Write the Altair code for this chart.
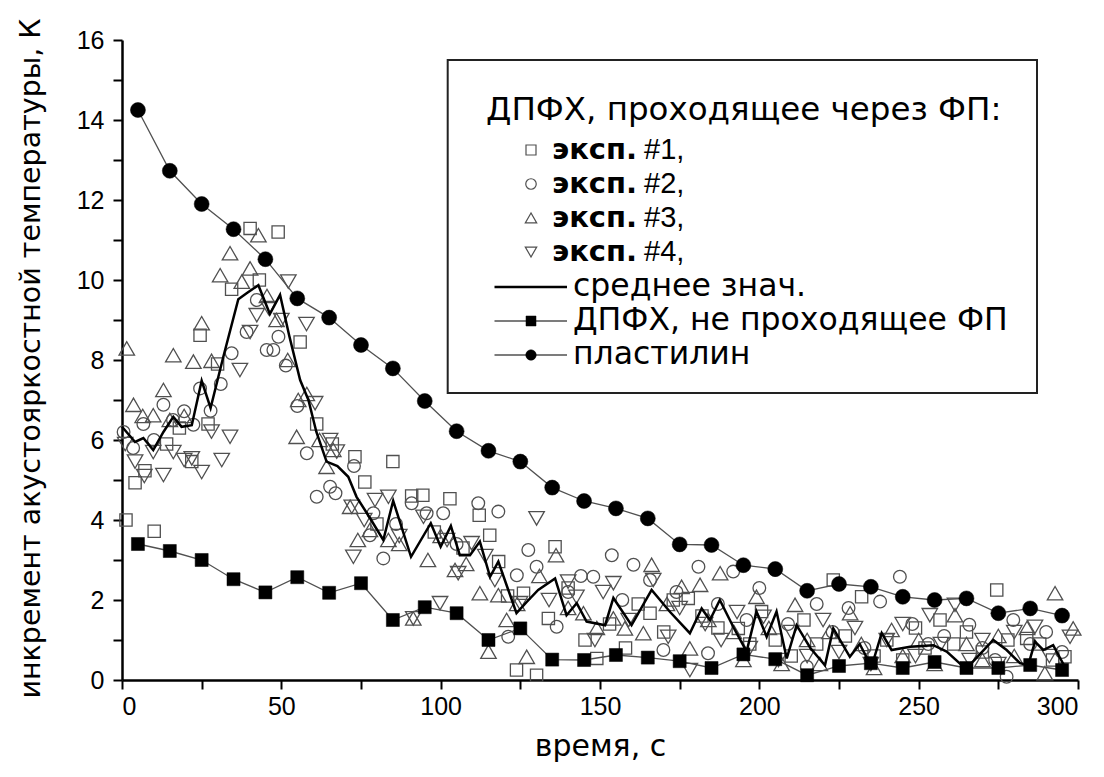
import altair as alt
import pandas as pd

# ---------------- data ----------------
# пластилин (filled circles)
plast_t = [5, 15, 25, 35, 45, 55, 65, 75, 85, 95, 105, 115, 125, 135, 145, 155, 165, 175, 185, 195,
           205, 215, 225, 235, 245, 255, 265, 275, 285, 295]
plast_v = [14.25, 12.73, 11.9, 11.27, 10.52, 9.54, 9.06, 8.375, 7.79, 6.975, 6.22, 5.73, 5.46, 4.81,
           4.475, 4.29, 4.04, 3.39, 3.375, 2.87, 2.775, 2.23, 2.4, 2.33, 2.08, 2.0, 2.04, 1.67, 1.79, 1.61]

# ДПФХ, не проходящее ФП (filled squares)
nofp_t = plast_t
nofp_v = [3.4, 3.225, 3.0, 2.52, 2.19, 2.57, 2.18, 2.42, 1.5, 1.82, 1.67, 1.0, 1.29, 0.51, 0.5,
          0.625, 0.56, 0.47, 0.3, 0.64, 0.52, 0.12, 0.35, 0.42, 0.3, 0.45, 0.3, 0.3, 0.375, 0.25]

# среднее значение (mean line)
mean_t = [0, 2.5, 4.1, 6.7, 9.8, 13, 16.1, 18.7, 21.9, 25, 27.8, 31.8, 36.5, 39.1, 42.8, 46.4, 49.6,
          52.5, 55.9, 58.5, 61, 64.2, 67.6, 71, 73.6, 77.8, 82, 85.1, 90.7, 96.9, 100, 103.2, 106,
          109.2, 112.3, 115.5, 118.1, 121, 123.8, 127, 130.6, 135.9, 139.5, 142.7, 145.8, 151.6,
          154.2, 159.9, 166.2, 172, 178.2, 181.9, 184.5, 187.6, 192, 196, 199.1, 202.3, 205.4,
          208.6, 211.7, 216, 220.6, 223.2, 228.4, 231.5, 235.2, 238.4, 241.5, 247.3, 254.6, 258.8,
          263.5, 266.6, 273.4, 277.6, 281.8, 284.4, 286.5, 289.1, 292.2, 296.4]
mean_v = [6.33, 6.1, 5.95, 6.05, 5.75, 6.2, 6.58, 6.33, 6.37, 7.48, 6.8, 8.08, 9.52, 9.67, 9.87, 9.15,
          9.63, 8.6, 7.5, 7.0, 6.2, 5.46, 5.35, 5.08, 4.58, 4.05, 3.5, 4.48, 3.08, 3.92, 3.33, 3.85,
          3.12, 3.12, 3.46, 2.58, 2.96, 2.3, 1.67, 1.95, 2.25, 2.54, 1.62, 1.92, 1.46, 1.37, 2.05,
          1.37, 2.25, 1.7, 1.17, 1.79, 1.5, 2.0, 1.3, 0.71, 1.71, 1.08, 1.71, 0.54, 1.37, 0.8, 0.37,
          1.29, 0.58, 0.9, 0.33, 1.17, 0.75, 0.83, 0.87, 0.71, 0.37, 0.42, 1.0, 0.75, 0.42, 0.37,
          0.96, 0.75, 0.87, 0.25]

# эксп. #1 (open squares)
e1_t = [1.25, 4.1, 7.2, 10.1, 14, 18, 21.9, 24.5, 27, 30, 34.4, 40.2, 43.1, 49, 55.9, 61.1, 66, 73.1,
        76.2, 80, 85, 90.9, 94.4, 98, 102.9, 107, 112.1, 115.4, 118.2, 121, 123.8, 126, 130.1, 133.8,
        135.9, 140, 145.3, 149, 153, 158, 162, 165.7, 170, 173, 177.7, 182, 187, 193.4, 197, 200.7,
        205, 210, 214, 218, 223.2, 227, 232.1, 236, 240, 245, 249, 252, 256.7, 261, 265, 270, 274.5,
        278, 283.9, 288, 292, 295.9]
e1_v = [4.0, 4.93, 5.23, 3.72, 5.9, 6.3, 5.46, 8.62, 6.4, 7.9, 9.77, 11.29, 10.0, 11.2, 8.45, 6.4, 5.9,
        5.58, 4.95, 3.9, 5.46, 4.6, 4.62, 3.7, 4.53, 3.3, 4.12, 3.62, 2.96, 2.1, 0.25, 2.17, 0.12, 1.54,
        3.33, 2.3, 1.0, 0.54, 1.4, 0.8, 1.9, 1.67, 1.2, 2.0, 2.04, 1.6, 1.3, 1.29, 0.9, 1.71, 1.0, 0.6,
        1.5, 0.9, 2.5, 1.1, 2.08, 0.6, 1.0, 0.5, 1.3, 0.8, 1.5, 0.9, 1.2, 0.7, 2.25, 1.0, 1.04, 0.9,
        0.5, 0.58]

# эксп. #2 (open circles)
e2_t = [0.5, 3.5, 6.7, 10, 13, 16, 19.5, 22.4, 24.5, 27.8, 31, 34.4, 39.1, 42.3, 45.4, 47.5, 49.1,
        51.4, 55, 58, 61.1, 65.3, 67, 72.8, 77.8, 78.9, 82, 86, 90.9, 95.6, 100.8, 105, 111.8, 118.1,
        121.2, 123.9, 127.5, 130.1, 136.4, 140, 144, 147.9, 153.7, 157, 160.5, 165.7, 169.9, 174,
        180.9, 183.9, 187, 191.8, 196, 200, 205, 209, 214.9, 218, 223, 228, 233, 237.9, 244.1, 248,
        253, 258, 265.9, 270, 274, 277.6, 279.7, 285, 290, 295]
e2_v = [6.2, 5.8, 6.4, 6.0, 6.88, 6.5, 6.72, 6.38, 7.29, 6.73, 7.4, 8.17, 8.7, 9.5, 8.25, 8.25, 8.58,
        7.86, 6.85, 5.67, 4.58, 4.83, 4.67, 5.35, 3.62, 4.17, 3.04, 3.9, 4.42, 4.17, 4.17, 3.4, 4.42,
        4.21, 1.08, 2.62, 3.25, 2.83, 1.33, 2.2, 2.6, 2.58, 3.12, 2.0, 2.88, 2.5, 0.75, 2.2, 2.83, 0.67,
        1.9, 2.71, 1.5, 2.3, 2.75, 1.4, 0.33, 1.9, 1.2, 1.8, 0.8, 1.96, 2.58, 1.4, 0.9, 1.1, 1.38, 0.8,
        0.5, 0.08, 1.5, 0.9, 1.2, 0.7]

# эксп. #3 (open triangles up)
e3_t = [1.5, 3.6, 6.5, 9.8, 13, 15, 16.1, 19.5, 22.4, 25, 28.1, 30.8, 33.9, 37.6, 40.2, 42.8, 45.5, 48.5,
        52, 54.8, 55.3, 58, 62, 64.2, 66.3, 71.6, 74, 77.8, 83.6, 87, 91.4, 96, 100, 104.5, 108, 112.3,
        115, 118.1, 120.7, 124, 127, 131, 136.2, 140, 144.8, 149, 154.2, 157.8, 163.6, 166.2, 171,
        175.6, 178.2, 181.4, 184, 187.7, 192, 195, 199.1, 203, 207, 211.2, 215, 219, 222, 228.5, 232,
        236, 241.5, 245, 250, 255, 261.4, 265, 270, 275, 280, 284, 289.6, 292.8, 298.5]
e3_v = [8.29, 6.88, 6.6, 6.62, 7.25, 6.5, 8.12, 6.6, 7.96, 8.92, 7.98, 10.12, 10.67, 9.96, 10.29, 11.12,
        9.6, 9.0, 8.0, 6.08, 7.0, 7.15, 6.0, 5.33, 5.75, 4.33, 3.5, 3.75, 3.5, 3.4, 1.54, 3.0, 3.6,
        2.75, 2.9, 2.17, 0.71, 2.12, 1.5, 1.9, 0.58, 2.6, 3.12, 1.8, 1.67, 1.3, 1.54, 1.29, 1.17, 2.88,
        1.9, 2.33, 0.79, 2.38, 1.5, 2.67, 1.2, 0.5, 2.08, 1.3, 0.4, 1.88, 1.0, 0.4, 1.2, 1.67, 0.9, 0.3,
        1.25, 0.6, 1.0, 0.4, 1.62, 0.9, 0.5, 1.1, 0.6, 1.3, 0.17, 2.17, 1.29]

# эксп. #4 (open triangles down)
e4_t = [1, 4.1, 7, 9.8, 13, 16.1, 19.5, 21.9, 25, 28.1, 31.3, 33.9, 37, 40.2, 42.3, 46, 50, 52.2, 57.9,
        60.6, 65.3, 67.4, 72.1, 72.6, 76, 79.4, 83.6, 87, 91.4, 94.6, 99.8, 102, 105.5, 109.7, 114,
        117, 124.9, 130.1, 134, 140, 142.6, 148.4, 151, 154.2, 159, 166.7, 171.4, 175, 178.2, 183, 188,
        193, 197, 201.3, 206, 210, 215, 220, 225, 230, 235, 240, 245, 249, 253.5, 257, 261.4, 266, 270,
        275, 280, 286.5, 291, 297.5]
e4_v = [5.9, 5.46, 5.1, 5.7, 5.125, 5.7, 5.5, 5.54, 5.2, 6.21, 5.5, 6.08, 7.75, 8.7, 9.12, 9.3, 9.0,
        9.96, 8.9, 6.92, 6.0, 5.71, 4.33, 3.08, 4.0, 4.5, 4.58, 3.6, 1.54, 4.08, 1.92, 3.5, 2.67, 3.42,
        3.1, 2.5, 1.92, 4.04, 2.0, 2.46, 2.08, 1.0, 2.2, 2.42, 1.5, 2.5, 1.08, 1.8, 0.25, 1.4, 1.0, 1.7,
        0.8, 1.58, 0.5, 1.2, 0.6, 1.5, 0.7, 1.3, 0.4, 1.0, 1.4, 0.6, 1.62, 0.9, 1.88, 0.5, 1.0, 0.4, 1.2,
        1.33, 0.6, 1.08]

x_ticks = list(range(0, 301, 25))
y_ticks = list(range(0, 17))

legend_title = "ДПФХ, проходящее через ФП:"
exp_labels = ["#1,", "#2,", "#3,", "#4,"]
exp_word = "эксп."
line_labels = ["среднее знач.", "ДПФХ, не проходящее ФП", "пластилин"]

# ---------------- chart ----------------
W, H = 956, 640
TXT = "DejaVu Sans"
NUM = "Liberation Sans Narrow, Liberation Sans, Arial"
GREY = "#505050"

xs = alt.Scale(domain=[0, 300], nice=False, zero=False)
ys = alt.Scale(domain=[0, 16], nice=False, zero=False)

x_axis = alt.Axis(values=x_ticks, labelExpr="datum.value % 50 == 0 ? datum.label : ''",
                  tickSize=9, tickWidth=2, tickColor="black", domainColor="black", domainWidth=2.5,
                  labelFont=NUM, labelFontSize=25, labelColor="black", labelPadding=5, grid=False,
                  title="время, с", titleFont=TXT, titleFontSize=30, titleFontWeight="normal",
                  titleColor="black", titleX=W / 2, titleY=66, titleBaseline="middle")
y_axis = alt.Axis(values=y_ticks, labelExpr="datum.value % 2 == 0 ? datum.label : ''",
                  tickSize=9, tickWidth=2, tickColor="black", domainColor="black", domainWidth=2.5,
                  labelFont=NUM, labelFontSize=25, labelColor="black", labelPadding=9, grid=False,
                  title="инкремент акустояркостной температуры, К", titleFont=TXT, titleFontSize=28.5,
                  titleFontWeight="normal", titleColor="black", titleAngle=270, titleX=-92,
                  titleY=H / 2 - 2, titleBaseline="middle")

X = alt.X("t:Q", scale=xs, axis=x_axis)
Y = alt.Y("v:Q", scale=ys, axis=y_axis)


def df(t, v):
    return pd.DataFrame({"t": t, "v": v})


def pts(t, v, shape, size, filled=False, color=GREY, sw=1.3):
    return alt.Chart(df(t, v)).mark_point(shape=shape, size=size, filled=filled,
                                          fill="black" if filled else "transparent",
                                          stroke=color, strokeWidth=sw, opacity=1).encode(x=X, y=Y)


def line(t, v, color, sw):
    return alt.Chart(df(t, v)).mark_line(color=color, strokeWidth=sw).encode(x=X, y=Y)


one = pd.DataFrame({"a": [0]})


def ltext(x, y, s, size=31, weight="normal", font=TXT, color="black"):
    return alt.Chart(one).mark_text(text=s, align="left", baseline="middle", font=font,
                                    fontSize=size, fontWeight=weight, color=color).encode(
        x=alt.value(x), y=alt.value(y))


def lsym(x, y, shape, size, filled=False, color=GREY, sw=1.2):
    return alt.Chart(one).mark_point(shape=shape, size=size, filled=filled,
                                     fill="black" if filled else "transparent",
                                     stroke=color, strokeWidth=sw, opacity=1).encode(
        x=alt.value(x), y=alt.value(y))


def lrule(x1, x2, y, color, sw):
    return alt.Chart(one).mark_rule(color=color, strokeWidth=sw).encode(
        x=alt.value(x1), x2=alt.value(x2), y=alt.value(y))


layers = [
    pts(e1_t, e1_v, "square", 150),
    pts(e2_t, e2_v, "circle", 160),
    pts(e3_t, e3_v, "triangle-up", 240),
    pts(e4_t, e4_v, "triangle-down", 240),
    line(mean_t, mean_v, "black", 2.5),
    line(nofp_t, nofp_v, GREY, 1.3),
    pts(nofp_t, nofp_v, "square", 170, filled=True, color="black", sw=0.5),
    line(plast_t, plast_v, GREY, 1.3),
    pts(plast_t, plast_v, "circle", 225, filled=True, color="black", sw=0.5),
]

# legend box
BX1, BX2, BY1, BY2 = 325.7, 915, 20, 353
layers.append(alt.Chart(one).mark_rect(fill="white", stroke="#222222", strokeWidth=2).encode(
    x=alt.value(BX1), x2=alt.value(BX2), y=alt.value(BY1), y2=alt.value(BY2)))
layers.append(ltext(364, 70, legend_title, size=32.5))
exp_shapes = ["square", "circle", "triangle-up", "triangle-down"]
exp_sizes = [100, 110, 130, 130]
row_y = [110, 144, 178, 212]
for shp, sz, lab, yy in zip(exp_shapes, exp_sizes, exp_labels, row_y):
    layers.append(lsym(409, yy, shp, sz))
    layers.append(ltext(430, yy, exp_word, size=29, weight=600))
    layers.append(ltext(522, yy, lab, size=29, font="Liberation Sans"))
line_y = [247, 281, 315]
layers.append(lrule(372.5, 445, line_y[0], "black", 2.5))
layers.append(lrule(372.5, 445, line_y[1], GREY, 1.3))
layers.append(lsym(409, line_y[1], "square", 100, filled=True, color="black", sw=0.5))
layers.append(lrule(372.5, 445, line_y[2], GREY, 1.3))
layers.append(lsym(409, line_y[2], "circle", 110, filled=True, color="black", sw=0.5))
for lab, yy in zip(line_labels, line_y):
    layers.append(ltext(451, yy, lab, size=31.5))

chart = alt.layer(*layers).properties(
    width=W, height=H,
    autosize=alt.AutoSizeParams(type="none"),
    padding={"left": 122, "top": 40, "right": 26, "bottom": 97},
    background="white",
).configure_view(stroke=None)

chart.save("out.html", embed_options={"renderer": "svg", "actions": False})
